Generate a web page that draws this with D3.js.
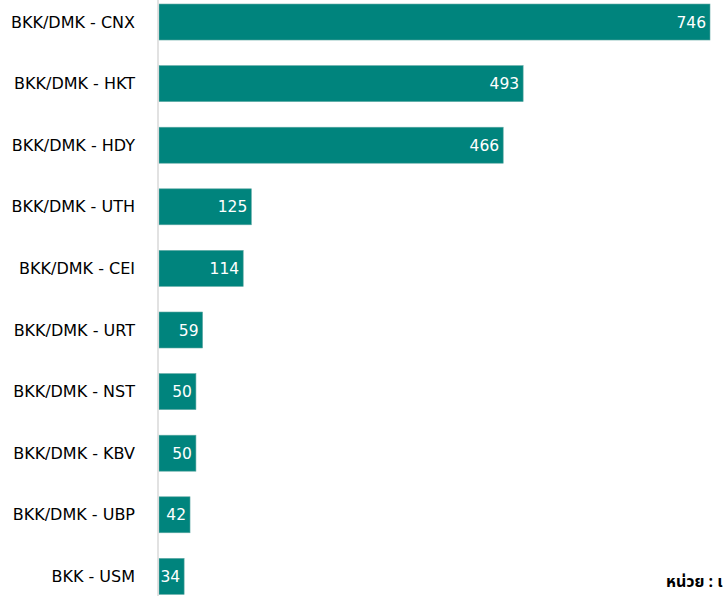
<!DOCTYPE html>
<html>
<head>
<meta charset="utf-8">
<script src="https://cdn.jsdelivr.net/npm/d3@7"></script>
<style>
  html, body { margin: 0; padding: 0; background: #fff; overflow: hidden; }
  text { font-family: 'DejaVu Sans', sans-serif; }
</style>
</head>
<body>
<div id="chart"></div>
<script>
const routes = ['BKK/DMK - CNX', 'BKK/DMK - HKT', 'BKK/DMK - HDY', 'BKK/DMK - UTH', 'BKK/DMK - CEI',
  'BKK/DMK - URT', 'BKK/DMK - NST', 'BKK/DMK - KBV', 'BKK/DMK - UBP', 'BKK - USM'];
const flights = [746, 493, 466, 125, 114, 59, 50, 50, 42, 34];
const unitLabel = 'หน่วย : เที่ยวบิน';

const width = 723;
const height = 599;

const svg = d3.select('#chart')
  .append('svg')
  .attr('width', width)
  .attr('height', height);

const x = d3.scaleLinear()
  .domain([0, 746])
  .range([159, 710]);

const y = d3.scaleBand()
  .domain(routes)
  .range([-8.3, 606.7])
  .paddingInner(0.4156)
  .paddingOuter(0.2);

const rows = routes.map((r, i) => ({ route: r, value: flights[i] }));

// category labels (no ticks, just text)
svg.append('g')
  .selectAll('text')
  .data(rows)
  .join('text')
  .attr('x', 135)
  .attr('y', d => y(d.route) + y.bandwidth() / 2)
  .attr('dy', '0.35em')
  .attr('text-anchor', 'end')
  .attr('font-size', 16)
  .attr('fill', '#000')
  .text(d => d.route);

svg.append('g')
  .selectAll('rect')
  .data(rows)
  .join('rect')
  .attr('x', x(0))
  .attr('y', d => y(d.route))
  .attr('width', d => x(d.value) - x(0))
  .attr('height', y.bandwidth())
  .attr('fill', '#00847d')
  .attr('stroke', '#5fa9a4')
  .attr('stroke-width', 0.6);

svg.append('line')
  .attr('x1', 158)
  .attr('x2', 158)
  .attr('y1', 0)
  .attr('y2', 596)
  .attr('stroke', '#d9d9d9')
  .attr('stroke-width', 1.5);

svg.append('g')
  .selectAll('text')
  .data(rows)
  .join('text')
  .attr('x', d => x(d.value) - 4)
  .attr('y', d => y(d.route) + y.bandwidth() / 2)
  .attr('dy', '0.36em')
  .attr('text-anchor', 'end')
  .attr('font-size', 15.5)
  .attr('fill', '#fff')
  .text(d => d.value);

// unit note, cut off by the right edge as in the source image
svg.append('text')
  .attr('x', 666)
  .attr('y', 587)
  .attr('font-size', 16)
  .attr('font-weight', 'bold')
  .attr('fill', '#000')
  .style('font-family', "Tahoma, 'Noto Sans Thai', 'Noto Sans', 'DejaVu Sans', sans-serif")
  .text(unitLabel);
</script>
</body>
</html>
